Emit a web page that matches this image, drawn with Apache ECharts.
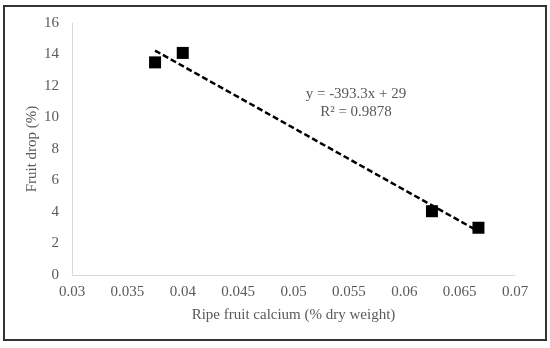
<!DOCTYPE html>
<html>
<head>
<meta charset="utf-8">
<script src="https://cdn.jsdelivr.net/npm/echarts@6/dist/echarts.min.js"></script>
<style>
html,body{margin:0;padding:0;background:#fff;}
#c{width:550px;height:348px;}
</style>
</head>
<body>
<div id="c"></div>
<script>
const calcium = [0.0375, 0.04, 0.0625, 0.0667];
const fruitDrop = [13.5, 14.1, 4.05, 3.0];
const trendX = [0.0375, 0.0667];
const trendY = [14.25, 2.77];
const xTicks = [0.03, 0.035, 0.04, 0.045, 0.05, 0.055, 0.06, 0.065, 0.07];
const yTicks = [0, 2, 4, 6, 8, 10, 12, 14, 16];
const equationText = 'y = -393.3x + 29';
const r2Text = 'R² = 0.9878';

const font = 'Liberation Serif, Times New Roman, serif';
const grey = '#595959';

const chart = echarts.init(document.getElementById('c'));
chart.setOption({
  animation: false,
  backgroundColor: '#fff',
  grid: {left: 72, right: 35, top: 23, bottom: 73},
  graphic: [
    {type: 'rect', shape: {x: 4, y: 6, width: 542, height: 334},
     style: {fill: 'none', stroke: '#333', lineWidth: 2}, z: 100},
    {type: 'text', x: 356, y: 94,
     style: {text: equationText, font: '15px ' + font, fill: grey, align: 'center', verticalAlign: 'middle'}},
    {type: 'text', x: 356, y: 112,
     style: {text: r2Text, font: '15px ' + font, fill: grey, align: 'center', verticalAlign: 'middle'}}
  ],
  xAxis: {
    type: 'value', min: xTicks[0], max: xTicks[xTicks.length - 1], interval: 0.005,
    axisLine: {show: true, lineStyle: {color: '#d9d9d9', width: 1}},
    axisTick: {show: false}, splitLine: {show: false},
    axisLabel: {color: grey, fontFamily: font, fontSize: 15, margin: 10,
      formatter: v => xTicks.find(t => Math.abs(t - v) < 1e-9)?.toString() ?? ''},
    name: 'Ripe fruit calcium (% dry weight)', nameLocation: 'middle', nameGap: 33,
    nameMoveOverlap: false,
    nameTextStyle: {color: grey, fontFamily: font, fontSize: 15}
  },
  yAxis: {
    type: 'value', min: yTicks[0], max: yTicks[yTicks.length - 1], interval: 2,
    axisLine: {show: true, lineStyle: {color: '#d9d9d9', width: 1}},
    axisTick: {show: false}, splitLine: {show: false},
    axisLabel: {color: grey, fontFamily: font, fontSize: 15, margin: 13},
    name: 'Fruit drop (%)', nameLocation: 'middle', nameGap: 32,
    nameMoveOverlap: false,
    nameTextStyle: {color: grey, fontFamily: font, fontSize: 15}
  },
  series: [
    {type: 'line', data: trendX.map((x, i) => [x, trendY[i]]), symbol: 'none',
     lineStyle: {color: '#000', width: 2.5, type: [6, 3]}, z: 2},
    {type: 'scatter', data: calcium.map((x, i) => [x, fruitDrop[i]]), symbol: 'rect', symbolSize: 12,
     itemStyle: {color: '#000', opacity: 1}, z: 3}
  ]
});
</script>
</body>
</html>
